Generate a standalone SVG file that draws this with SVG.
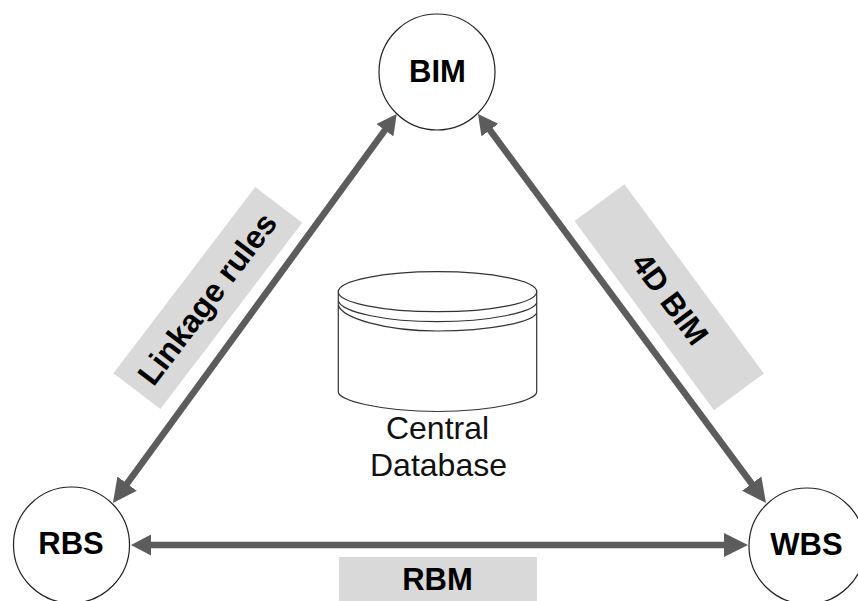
<svg xmlns="http://www.w3.org/2000/svg" width="858" height="601" viewBox="0 0 858 601">
<style>
.n{fill:#fff;stroke:#222;stroke-width:1.2}
.l{fill:#d9d9d9}
.c{fill:none;stroke:#5c5c5c;stroke-width:6.6;marker-start:url(#s);marker-end:url(#e)}
.b{font:bold 31px "Liberation Sans",Arial,sans-serif;fill:#000;text-anchor:middle}
.t{font:32px "Liberation Sans",Arial,sans-serif;fill:#111;text-anchor:middle}
.d{fill:#fff;stroke:#333;stroke-width:1.2}
.r{fill:none;stroke:#333;stroke-width:1.2}
</style>
<defs>
<marker id="s" markerUnits="userSpaceOnUse" markerWidth="21" markerHeight="22" refX="1" refY="11" orient="auto-start-reverse"><path d="M0 0.5L20 11L0 21.5Z" fill="#5c5c5c"/></marker>
<marker id="e" markerUnits="userSpaceOnUse" markerWidth="25" markerHeight="25" refX="1" refY="12.5" orient="auto-start-reverse"><path d="M0 0.5L24 12.5L0 24.5Z" fill="#5c5c5c"/></marker>
</defs>
<rect width="858" height="601" fill="#fff"/>
<g id="labels">
<g id="label-linkage" transform="translate(207.8 298) rotate(-52.7)"><rect class="l" x="-117" y="-29.5" width="234" height="59"/><text class="b" style="font-size:32px" x="-1" y="11">Linkage rules</text></g>
<g id="label-4d" transform="translate(669.2 297.2) rotate(53.6)"><rect class="l" x="-117.5" y="-31" width="235" height="62"/><text class="b" x="2" y="11">4D BIM</text></g>
<g id="label-rbm"><rect class="l" x="339" y="557" width="198" height="44"/><text class="b" x="437.5" y="589.5">RBM</text></g>
</g>
<g id="connectors">
<line class="c" x1="385.5" y1="129.4" x2="126.5" y2="484.4"/>
<line class="c" x1="489.3" y1="129.3" x2="752.3" y2="484.5"/>
<line class="c" x1="150" y1="545" x2="725" y2="545"/>
</g>
<g id="bim"><circle class="n" cx="437" cy="72" r="58"/><text class="b" x="437.5" y="82">BIM</text></g>
<g id="rbs"><circle class="n" cx="71.5" cy="545" r="58"/><text class="b" x="71" y="554">RBS</text></g>
<g id="wbs"><circle class="n" cx="807" cy="546" r="58"/><text class="b" x="806.5" y="555">WBS</text></g>
<g id="database">
<path class="d" d="M338.3 292V392C338.3 400 380 411.5 437.5 411.5C495 411.5 536.7 400 536.7 392V292Z"/>
<path class="r" d="M338.3 301C342 312 385 321.7 437.5 321.7C490 321.7 533 312 536.7 303M338.3 305C342 318 385 331 437.5 331C490 331 533 322 536.7 313"/>
<ellipse class="d" cx="437.5" cy="291.7" rx="99.2" ry="20"/>
<text class="t" x="437.5" y="438.5">Central</text>
<text class="t" x="438.5" y="475.5">Database</text>
</g>
</svg>
